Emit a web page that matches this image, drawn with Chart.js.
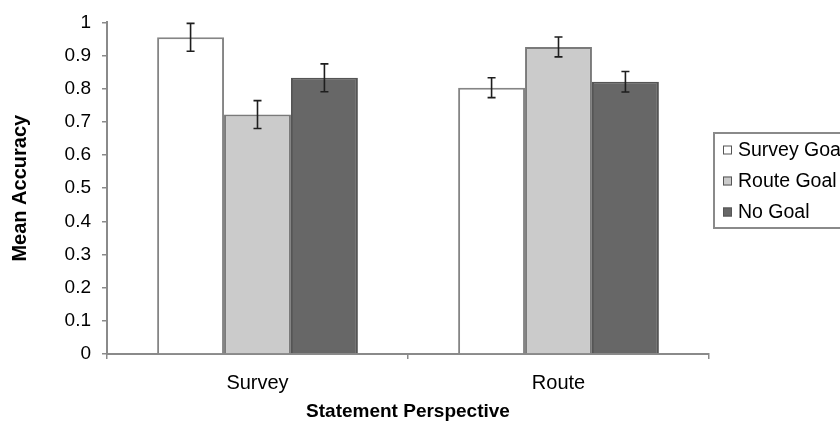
<!DOCTYPE html>
<html>
<head>
<meta charset="utf-8">
<script src="https://cdn.jsdelivr.net/npm/chart.js@4"></script>
<style>
  html, body { margin: 0; padding: 0; background: #fff; }
  #wrap { width: 840px; height: 423px; position: relative; }
</style>
</head>
<body>
<div id="wrap"><canvas id="accChart"></canvas></div>
<script>
// values
const perspectives = ["Survey", "Route"];
const goalNames = ["Survey Goal", "Route Goal", "No Goal"];
const surveyGoal = [0.955, 0.803];
const routeGoal = [0.722, 0.926];
const noGoal = [0.833, 0.821];
const surveyGoalErr = [0.042, 0.030];
const routeGoalErr = [0.042, 0.030];
const noGoalErr = [0.042, 0.031];
const yTicks = [0, 0.1, 0.2, 0.3, 0.4, 0.5, 0.6, 0.7, 0.8, 0.9, 1];

const fills = ["#ffffff", "#cbcbcb", "#676767"];
const edges = ["#858585", "#7a7a7a", "#555555"];
const errs = [surveyGoalErr, routeGoalErr, noGoalErr];
const fontFam = "'Liberation Sans', Arial, sans-serif";

// error bars on top of each bar
const errorBars = {
  id: "errorBars",
  afterDatasetsDraw(chart) {
    const ctx = chart.ctx;
    const y = chart.scales.y;
    ctx.save();
    ctx.strokeStyle = "#1e1e1e";
    ctx.lineWidth = 1.6;
    chart.data.datasets.forEach((ds, i) => {
      const meta = chart.getDatasetMeta(i);
      meta.data.forEach((bar, j) => {
        const e = errs[i][j];
        const top = y.getPixelForValue(ds.data[j] + e);
        const bot = y.getPixelForValue(ds.data[j] - e);
        const x = bar.x;
        ctx.beginPath();
        ctx.moveTo(x, top); ctx.lineTo(x, bot);
        ctx.moveTo(x - 4, top); ctx.lineTo(x + 4, top);
        ctx.moveTo(x - 4, bot); ctx.lineTo(x + 4, bot);
        ctx.stroke();
      });
    });
    ctx.restore();
  }
};

// boxed legend to the right, cut by the edge like the original
const boxLegend = {
  id: "boxLegend",
  afterDraw(chart) {
    const ctx = chart.ctx;
    const left = chart.chartArea.right + 5;
    const top = 133;
    ctx.save();
    ctx.strokeStyle = "#8a8a8a";
    ctx.lineWidth = 2;
    ctx.strokeRect(left, top, 150, 95);
    ctx.font = "19.5px " + fontFam;
    ctx.textBaseline = "middle";
    chart.data.datasets.forEach((ds, i) => {
      const cy = top + 17 + i * 31;
      ctx.fillStyle = ds.backgroundColor;
      ctx.fillRect(left + 9, cy - 4.5, 9, 9);
      ctx.strokeStyle = "#555";
      ctx.lineWidth = 1;
      ctx.strokeRect(left + 9.5, cy - 4, 8, 8);
      ctx.fillStyle = "#000";
      ctx.fillText(ds.label, left + 24, cy + 1);
    });
    ctx.restore();
  }
};

const datasets = [surveyGoal, routeGoal, noGoal].map((vals, i) => ({
  label: goalNames[i],
  data: vals,
  backgroundColor: fills[i],
  borderColor: edges[i],
  borderWidth: 2,
  categoryPercentage: 0.667,
  barPercentage: 1.0
}));

new Chart(document.getElementById("accChart"), {
  type: "bar",
  data: { labels: perspectives, datasets: datasets },
  options: {
    responsive: true,
    maintainAspectRatio: false,
    animation: false,
    layout: { padding: { top: 17, right: 131, left: 0, bottom: 0 } },
    plugins: { legend: { display: false }, tooltip: { enabled: false } },
    scales: {
      x: {
        afterFit: (s) => { s.height = 69; },
        grid: { display: true, offset: true, drawOnChartArea: false, drawTicks: true, tickLength: 5, color: "#8a8a8a", lineWidth: 1.5 },
        border: { display: true, color: "#8a8a8a", width: 2 },
        ticks: { color: "#000", padding: 12, font: { family: fontFam, size: 20 } },
        title: {
          display: true, text: "Statement Perspective", color: "#000",
          padding: { top: 0, bottom: 0 },
          font: { family: fontFam, size: 19, weight: "bold" }
        }
      },
      y: {
        min: 0, max: 1,
        afterFit: (s) => { s.width = 107; },
        afterBuildTicks: (s) => { s.ticks = yTicks.map(v => ({ value: v })); },
        grid: { display: true, drawOnChartArea: false, drawTicks: true, tickLength: 5, color: "#8a8a8a", lineWidth: 1.5 },
        border: { display: true, color: "#8a8a8a", width: 2 },
        ticks: {
          color: "#000", padding: 11,
          font: { family: fontFam, size: 19 },
          callback: (v) => String(v)
        },
        title: {
          display: true, text: "Mean Accuracy", color: "#000",
          padding: { top: 8, bottom: 0 },
          font: { family: fontFam, size: 20, weight: "bold" }
        }
      }
    }
  },
  plugins: [errorBars, boxLegend]
});
</script>
</body>
</html>
